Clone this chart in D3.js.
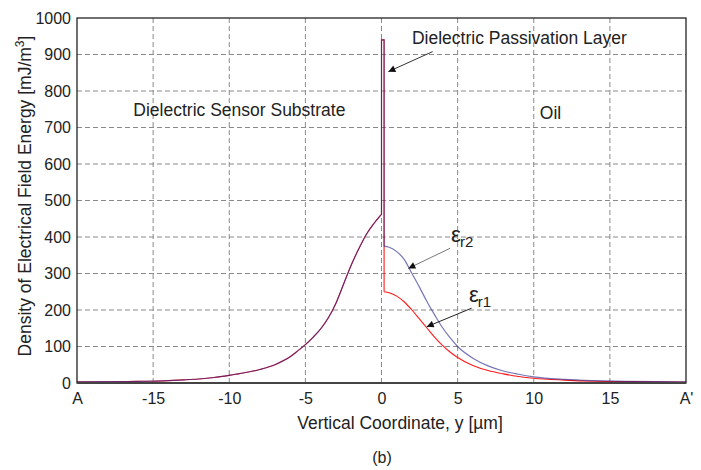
<!DOCTYPE html>
<html>
<head>
<meta charset="utf-8">
<title>Field energy density</title>
<script src="https://cdnjs.cloudflare.com/ajax/libs/d3/7.8.5/d3.min.js"></script>
<style>
  body { margin: 0; background: #fff; }
  text { font-family: "Liberation Sans", Arial, sans-serif; fill: #222; }
</style>
</head>
<body>
<script>
// left side (substrate), both curves coincide
var leftX = [-20, -18, -16, -15, -14, -13, -12, -11, -10, -9, -8, -7, -6.5, -6, -5.5, -5, -4.5, -4, -3.5, -3, -2.5, -2, -1.5, -1, -0.5, -0.05];
var leftY = [3, 3.5, 4.5, 5, 6.5, 8.5, 11, 15, 21, 28, 37, 50, 60, 72, 88, 105, 125, 148, 178, 218, 270, 322, 367, 407, 437, 460];
// passivation layer spike
var spikeX = [0, 0, 0.17];
var spikeY = [462, 940, 940];
// right side (oil)
var rightX = [0.17, 0.5, 1, 1.5, 2, 2.5, 3, 3.5, 4, 4.5, 5, 6, 7, 8, 9, 10, 12, 14, 16, 18, 20];
var er2Y = [375, 372, 360, 338, 300, 262, 222, 186, 152, 124, 100, 68, 47, 33, 24, 17, 10, 6.5, 4.5, 3.5, 3];
var er1Y = [250, 247, 238, 222, 200, 175, 150, 125, 103, 85, 70, 48, 34, 25, 18, 13, 8, 5, 4, 3, 2.5];

var xTicks = [-20, -15, -10, -5, 0, 5, 10, 15, 20];
var xTickLabels = ["A", "-15", "-10", "-5", "0", "5", "10", "15", "A'"];
var yTicks = [0, 100, 200, 300, 400, 500, 600, 700, 800, 900, 1000];

var width = 701, height = 470;
var margin = {top: 18, right: 15, bottom: 87, left: 77};

var x = d3.scaleLinear().domain([-20, 20]).range([margin.left, width - margin.right]);
var y = d3.scaleLinear().domain([0, 1000]).range([height - margin.bottom, margin.top]);

var svg = d3.select("body").append("svg")
  .attr("width", width)
  .attr("height", height);

function pts(xs, ys) {
  return xs.map(function(d, i) { return [d, ys[i]]; });
}

// grid
svg.append("g").selectAll("line")
  .data(xTicks.slice(1, -1)).enter().append("line")
  .attr("x1", function(d) { return x(d); }).attr("x2", function(d) { return x(d); })
  .attr("y1", y(0)).attr("y2", y(1000))
  .attr("stroke", "#8a8a8a").attr("stroke-dasharray", "5,3").attr("stroke-width", 1);
svg.append("g").selectAll("line")
  .data(yTicks.slice(1, -1)).enter().append("line")
  .attr("y1", function(d) { return y(d); }).attr("y2", function(d) { return y(d); })
  .attr("x1", x(-20)).attr("x2", x(20))
  .attr("stroke", "#8a8a8a").attr("stroke-dasharray", "5,3").attr("stroke-width", 1);

// axes (labels only)
var xAxis = d3.axisBottom(x).tickValues(xTicks).tickSize(0).tickPadding(10)
  .tickFormat(function(d, i) { return xTickLabels[i]; });
var yAxis = d3.axisLeft(y).tickValues(yTicks).tickSize(0).tickPadding(6)
  .tickFormat(d3.format("d"));

svg.append("g").attr("transform", "translate(0," + y(0) + ")").call(xAxis)
  .call(function(g) { g.select(".domain").remove(); })
  .selectAll("text").style("font-size", "16px").attr("fill", "#222");
svg.append("g").attr("transform", "translate(" + x(-20) + ",0)").call(yAxis)
  .call(function(g) { g.select(".domain").remove(); })
  .selectAll("text").style("font-size", "16px").attr("fill", "#222");

// curves: smooth flanks, straight spike
var smooth = d3.line().curve(d3.curveMonotoneX)
  .x(function(d) { return x(d[0]); }).y(function(d) { return y(d[1]); });
var straight = d3.line()
  .x(function(d) { return x(d[0]); }).y(function(d) { return y(d[1]); });

function drawSeries(rightY, col, op, w) {
  var g = svg.append("g").attr("fill", "none").attr("stroke", col)
    .attr("stroke-opacity", op).attr("stroke-width", w);
  g.append("path").attr("d", smooth(pts(leftX, leftY)));
  var sp = [[leftX[leftX.length - 1], leftY[leftY.length - 1]]]
    .concat(pts(spikeX, spikeY), [[rightX[0], rightY[0]]]);
  g.append("path").attr("d", straight(sp));
  g.append("path").attr("d", smooth(pts(rightX, rightY)));
}
drawSeries(er1Y, "#ff1a1a", 1, 1.1);
drawSeries(er2Y, "#22228c", 0.62, 1.2);

// frame
svg.append("rect")
  .attr("x", x(-20)).attr("y", y(1000))
  .attr("width", x(20) - x(-20)).attr("height", y(0) - y(1000))
  .attr("fill", "none").attr("stroke", "#111").attr("stroke-width", 1.2);
svg.append("line")
  .attr("x1", x(-20)).attr("x2", x(20)).attr("y1", y(0)).attr("y2", y(0))
  .attr("stroke", "#444").attr("stroke-width", 2);

// axis titles
svg.append("text")
  .attr("x", 400).attr("y", 429)
  .attr("text-anchor", "middle").style("font-size", "17.5px")
  .text("Vertical Coordinate, y [\u00b5m]");
svg.append("text")
  .attr("x", 382).attr("y", 463)
  .attr("text-anchor", "middle").style("font-size", "16px")
  .text("(b)");
var yt = svg.append("text")
  .attr("transform", "translate(31," + 196 + ") rotate(-90)")
  .attr("text-anchor", "middle").style("font-size", "17.5px");
yt.append("tspan").text("Density of Electrical Field Energy  [mJ/m");
yt.append("tspan").attr("dy", -7).style("font-size", "12px").text("3");
yt.append("tspan").attr("dy", 7).text("]");

// annotations
svg.append("defs").append("marker")
  .attr("id", "tri").attr("viewBox", "0 0 10 10")
  .attr("refX", 10).attr("refY", 5)
  .attr("markerWidth", 10).attr("markerHeight", 7)
  .attr("markerUnits", "userSpaceOnUse")
  .attr("orient", "auto")
  .append("path").attr("d", "M0,0L10,5L0,10Z").attr("fill", "#111");

function arrow(x0, y0, x1, y1, col) {
  svg.append("line")
    .attr("x1", x(x0)).attr("y1", y(y0)).attr("x2", x(x1)).attr("y2", y(y1))
    .attr("stroke", col).attr("stroke-width", 1)
    .attr("marker-end", "url(#tri)");
}
arrow(3.36, 908, 0.45, 853, "#333");
arrow(4.5, 369, 1.76, 314, "#777");
arrow(5.92, 205, 2.97, 154, "#222");

svg.append("text").attr("x", x(2.0)).attr("y", y(928))
  .style("font-size", "17.5px").text("Dielectric Passivation Layer");
svg.append("text").attr("x", x(-16.3)).attr("y", y(731))
  .style("font-size", "17.5px").text("Dielectric Sensor Substrate");
svg.append("text").attr("x", x(11.1)).attr("y", y(723))
  .attr("text-anchor", "middle").style("font-size", "17.5px").text("Oil");

function eps(xv, yv, sub) {
  var t = svg.append("text").attr("x", x(xv)).attr("y", y(yv)).style("font-size", "22px");
  t.append("tspan").text("\u03b5");
  t.append("tspan").attr("dy", 5).attr("dx", -1).style("font-size", "15px").text(sub);
}
eps(4.57, 386, "r2");
eps(5.75, 222, "r1");
</script>
</body>
</html>
